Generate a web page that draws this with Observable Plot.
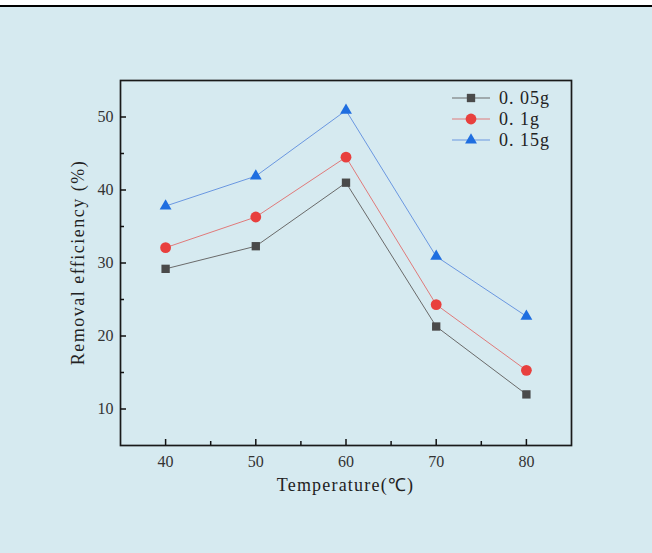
<!DOCTYPE html>
<html><head><meta charset="utf-8">
<script src="https://cdn.jsdelivr.net/npm/d3@7"></script>
<script src="https://cdn.jsdelivr.net/npm/@observablehq/plot@0.6"></script>
<style>
html,body{margin:0;padding:0;background:#fff;}
#wrap{position:relative;margin-top:5px;border-top:2px solid #000;background:#d6eaf0;width:652px;height:546px;overflow:hidden;}
#legend{position:absolute;left:450px;top:81px;font-family:"Liberation Serif",serif;font-size:18px;letter-spacing:1px;color:#222;}
#legend .row{display:flex;align-items:center;height:20.8px;}
#legend svg{margin-right:9px;}
</style></head>
<body><div id="wrap"><div id="legend"></div></div>
<script>
const temps = [40, 50, 60, 70, 80];
const seriesNames = ["0. 05g", "0. 1g", "0. 15g"];
const s005 = [29.2, 32.3, 41.0, 21.3, 12.0];
const s01 = [32.1, 36.3, 44.5, 24.3, 15.3];
const s015 = [37.8, 41.9, 50.9, 30.9, 22.7];
const xTicks = [40, 50, 60, 70, 80];
const xMinor = [45, 55, 65, 75];
const yTicks = [10, 20, 30, 40, 50];
const yMinor = [15, 25, 35, 45];

const markerColors = ["#4a4a4a", "#e8403e", "#1f6ee0"];
const lineColors = ["#6a6a6a", "#e07a7a", "#6a97e0"];
const symbols = ["square", "circle", "triangle"];
const radii = [4.7, 5.4, 4.4];
const allSeries = [s005, s01, s015];

const font = '"Liberation Serif", serif';
const marks = [];
allSeries.forEach((vals, i) => {
  const data = temps.map((t, j) => ({t, v: vals[j]}));
  marks.push(Plot.line(data, {x: "t", y: "v", stroke: lineColors[i], strokeWidth: 1}));
  marks.push(Plot.dot(data, {x: "t", y: "v", symbol: () => symbols[i], fill: markerColors[i], stroke: "none", r: radii[i]}));
});
marks.push(Plot.frame({stroke: "#1a1a1a", strokeWidth: 1.7}));
marks.push(Plot.axisX({ticks: xTicks, tickSize: -6, tickPadding: 16, fontSize: 16, label: null, stroke: "#111", strokeWidth: 1.5, fill: "#333"}));
marks.push(Plot.axisX({ticks: xMinor, tickSize: -4, tickFormat: () => "", label: null, stroke: "#111", strokeWidth: 1.5}));
marks.push(Plot.axisY({ticks: yTicks, tickSize: -6, tickPadding: 13, fontSize: 16, label: null, stroke: "#111", strokeWidth: 1.5, fill: "#333"}));
marks.push(Plot.axisY({ticks: yMinor, tickSize: -4, tickFormat: () => "", label: null, stroke: "#111", strokeWidth: 1.5}));

const chart = Plot.plot({
  width: 652, height: 546,
  marginTop: 73, marginBottom: 108, marginLeft: 120, marginRight: 81,
  style: {background: "transparent", fontFamily: font, color: "#333"},
  x: {domain: [35, 85], label: null},
  y: {domain: [5, 55], label: null},
  marks
});
// axis titles
const svg = d3.select(chart);
svg.append("text").attr("x", 120 + 451/2).attr("y", 484).attr("text-anchor", "middle")
  .attr("font-size", 18).attr("letter-spacing", 1.2).attr("font-family", font).attr("fill", "#222").text("Temperature(℃)");
svg.append("text").attr("transform", `translate(84,${73 + 365/2}) rotate(-90)`).attr("text-anchor", "middle")
  .attr("font-size", 18).attr("letter-spacing", 1.5).attr("font-family", font).attr("fill", "#222").text("Removal efficiency (%)");
document.getElementById("wrap").appendChild(chart);

const leg = d3.select("#legend");
seriesNames.forEach((name, i) => {
  const row = leg.append("div").attr("class", "row");
  const s = row.append("svg").attr("width", 40).attr("height", 16);
  s.append("line").attr("x1", 2).attr("x2", 40).attr("y1", 8).attr("y2", 8).attr("stroke", lineColors[i]).attr("stroke-width", 1);
  s.append("path").attr("transform", "translate(21,8)").attr("fill", markerColors[i])
    .attr("d", d3.symbol([d3.symbolSquare, d3.symbolCircle, d3.symbolTriangle][i], Math.PI * radii[i] * radii[i])());
  row.append("span").text(name);
});
</script></body></html>
